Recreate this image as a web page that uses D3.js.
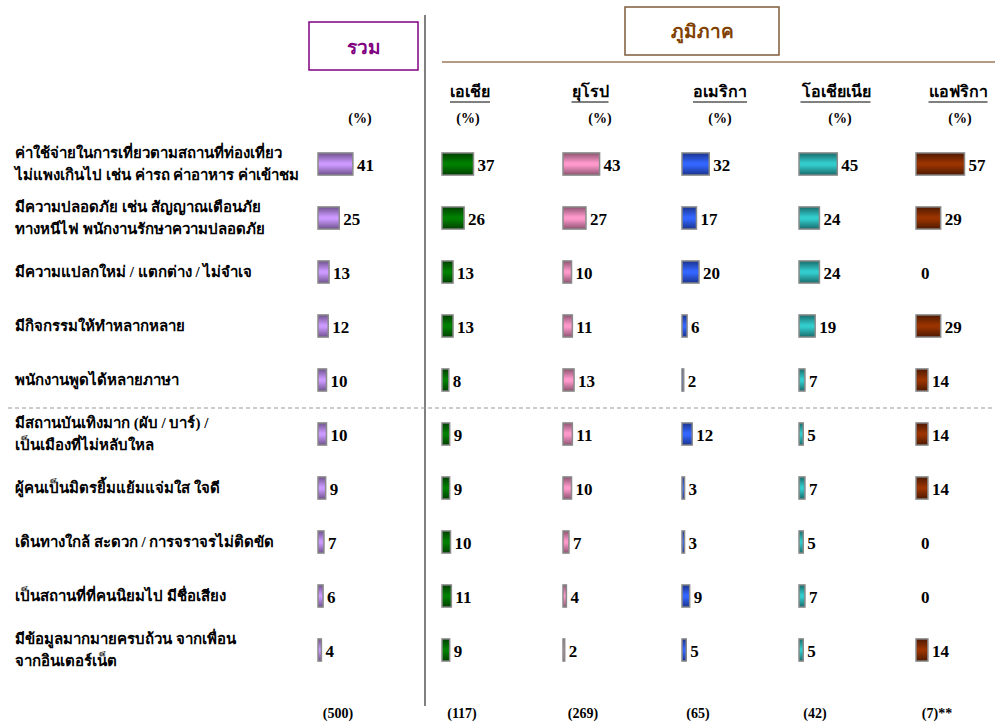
<!DOCTYPE html>
<html><head><meta charset="utf-8">
<script src="https://cdn.jsdelivr.net/npm/d3@7"></script>
<style>
body{margin:0;background:#fff;}
text{font-family:"Liberation Serif","Times New Roman",serif;font-weight:bold;}
</style></head>
<body><svg id="c" width="995" height="723"></svg>
<script>
const categories = [
  ["ค่าใช้จ่ายในการเที่ยวตามสถานที่ท่องเที่ยว","ไม่แพงเกินไป เช่น ค่ารถ ค่าอาหาร ค่าเข้าชม"],
  ["มีความปลอดภัย เช่น สัญญาณเตือนภัย","ทางหนีไฟ พนักงานรักษาความปลอดภัย"],
  ["มีความแปลกใหม่ / แตกต่าง / ไม่จำเจ"],
  ["มีกิจกรรมให้ทำหลากหลาย"],
  ["พนักงานพูดได้หลายภาษา"],
  ["มีสถานบันเทิงมาก (ผับ / บาร์)  /","เป็นเมืองที่ไม่หลับใหล"],
  ["ผู้คนเป็นมิตรยิ้มแย้มแจ่มใส ใจดี"],
  ["เดินทางใกล้ สะดวก / การจราจรไม่ติดขัด"],
  ["เป็นสถานที่ที่คนนิยมไป มีชื่อเสียง"],
  ["มีข้อมูลมากมายครบถ้วน จากเพื่อน","จากอินเตอร์เน็ต"]
];
const seriesNames = ["รวม","เอเชีย","ยุโรป","อเมริกา","โอเชียเนีย","แอฟริกา"];
const sampleSizes = ["(500)","(117)","(269)","(65)","(42)","(7)**"];
const total   = [41,25,13,12,10,10,9,7,6,4];
const asia    = [37,26,13,13,8,9,9,10,11,9];
const europe  = [43,27,10,11,13,11,10,7,4,2];
const america = [32,17,20,6,2,12,3,3,9,5];
const oceania = [45,24,24,19,7,5,7,5,7,5];
const africa  = [57,29,0,29,14,14,14,0,0,14];
const series = [total,asia,europe,america,oceania,africa];

const colStart = [318,442,563,682,799,916];
const headCx   = [364,470,590,720,836,958];
const pctCx    = [360,468,600,720,840,960];
const nCx      = [338,462,583,698,815,937];
const colors = [
  {mid:"#cc99ff",edge:"#6e528c"},
  {mid:"#008000",edge:"#004000"},
  {mid:"#ff99cc",edge:"#8c5470"},
  {mid:"#3366ff",edge:"#1a338c"},
  {mid:"#33cccc",edge:"#1a6b6b"},
  {mid:"#993300",edge:"#4d1a00"}
];

const svg = d3.select("#c");
const defs = svg.append("defs");
colors.forEach((c,i)=>{
  const g = defs.append("linearGradient").attr("id","g"+i).attr("x1",0).attr("y1",0).attr("x2",0).attr("y2",1);
  g.append("stop").attr("offset","0%").attr("stop-color",c.edge);
  g.append("stop").attr("offset","45%").attr("stop-color",c.mid);
  g.append("stop").attr("offset","55%").attr("stop-color",c.mid);
  g.append("stop").attr("offset","100%").attr("stop-color",c.edge);
});

const y = d3.scaleBand().domain(d3.range(categories.length)).range([137,677]).paddingInner(0.59).paddingOuter(0.295);
const x = d3.scaleLinear().domain([0,57]).range([0,48.5]);
const rowC = i => y(i)+y.bandwidth()/2;

// header boxes
svg.append("rect").attr("x",309).attr("y",22).attr("width",109).attr("height",48)
  .attr("fill","#fff").attr("stroke","#800080").attr("stroke-width",1.5);
svg.append("text").attr("x",364).attr("y",47).attr("text-anchor","middle").attr("dominant-baseline","central")
  .attr("fill","#800080").attr("font-size",19).text(seriesNames[0]);
svg.append("rect").attr("x",625).attr("y",7).attr("width",154).attr("height",48)
  .attr("fill","#fff").attr("stroke","#7f5a3a").attr("stroke-width",1.5);
svg.append("text").attr("x",702).attr("y",31).attr("text-anchor","middle").attr("dominant-baseline","central")
  .attr("fill","#804000").attr("font-size",19).text("ภูมิภาค");
svg.append("line").attr("x1",442).attr("x2",995).attr("y1",62).attr("y2",62).attr("stroke","#9c7a5a").attr("stroke-width",1.5);
svg.append("line").attr("x1",425).attr("x2",425).attr("y1",15).attr("y2",706).attr("stroke","#808080").attr("stroke-width",2);
svg.append("line").attr("x1",8).attr("x2",995).attr("y1",408).attr("y2",408).attr("stroke","#999").attr("stroke-width",1).attr("stroke-dasharray","4,3");

// region headers
seriesNames.slice(1).forEach((n,k)=>{
  const t = svg.append("text").attr("x",headCx[k+1]).attr("y",91).attr("text-anchor","middle").attr("dominant-baseline","central")
    .attr("font-size",16).attr("fill","#000").text(n);
  const bb = t.node().getBBox();
  svg.append("line").attr("x1",bb.x).attr("x2",bb.x+bb.width).attr("y1",102).attr("y2",102).attr("stroke","#000").attr("stroke-width",1);
});
pctCx.forEach(cx=>{
  svg.append("text").attr("x",cx).attr("y",118).attr("text-anchor","middle").attr("dominant-baseline","central")
    .attr("font-size",14).text("(%)");
});

// row labels
categories.forEach((lines,i)=>{
  const c = rowC(i);
  lines.forEach((l,j)=>{
    const off = lines.length===1?0:(j===0?-11:11);
    svg.append("text").attr("x",15).attr("y",c+off).attr("dominant-baseline","central")
      .attr("font-size",15).text(l);
  });
});

// bars
series.forEach((vals,s)=>{
  const data = vals.map((v,i)=>({v,i}));
  const g = svg.append("g");
  g.selectAll("rect").data(data.filter(d=>d.v>0)).join("rect")
    .attr("x",colStart[s]).attr("y",d=>y(d.i)).attr("width",d=>x(d.v)).attr("height",y.bandwidth())
    .attr("fill","url(#g"+s+")").attr("stroke","#8a8a8a").attr("stroke-width",1.5);
  g.selectAll("text").data(data).join("text")
    .attr("x",d=>d.v>0?colStart[s]+x(d.v)+4:colStart[s]+5)
    .attr("y",d=>rowC(d.i)+1).attr("dominant-baseline","central")
    .attr("font-family","'Liberation Serif',serif")
    .attr("font-size",17).text(d=>d.v);
});

// sample sizes
sampleSizes.forEach((n,k)=>{
  svg.append("text").attr("x",nCx[k]).attr("y",713).attr("text-anchor","middle").attr("dominant-baseline","central")
    .attr("font-size",14).text(n);
});
</script></body></html>
